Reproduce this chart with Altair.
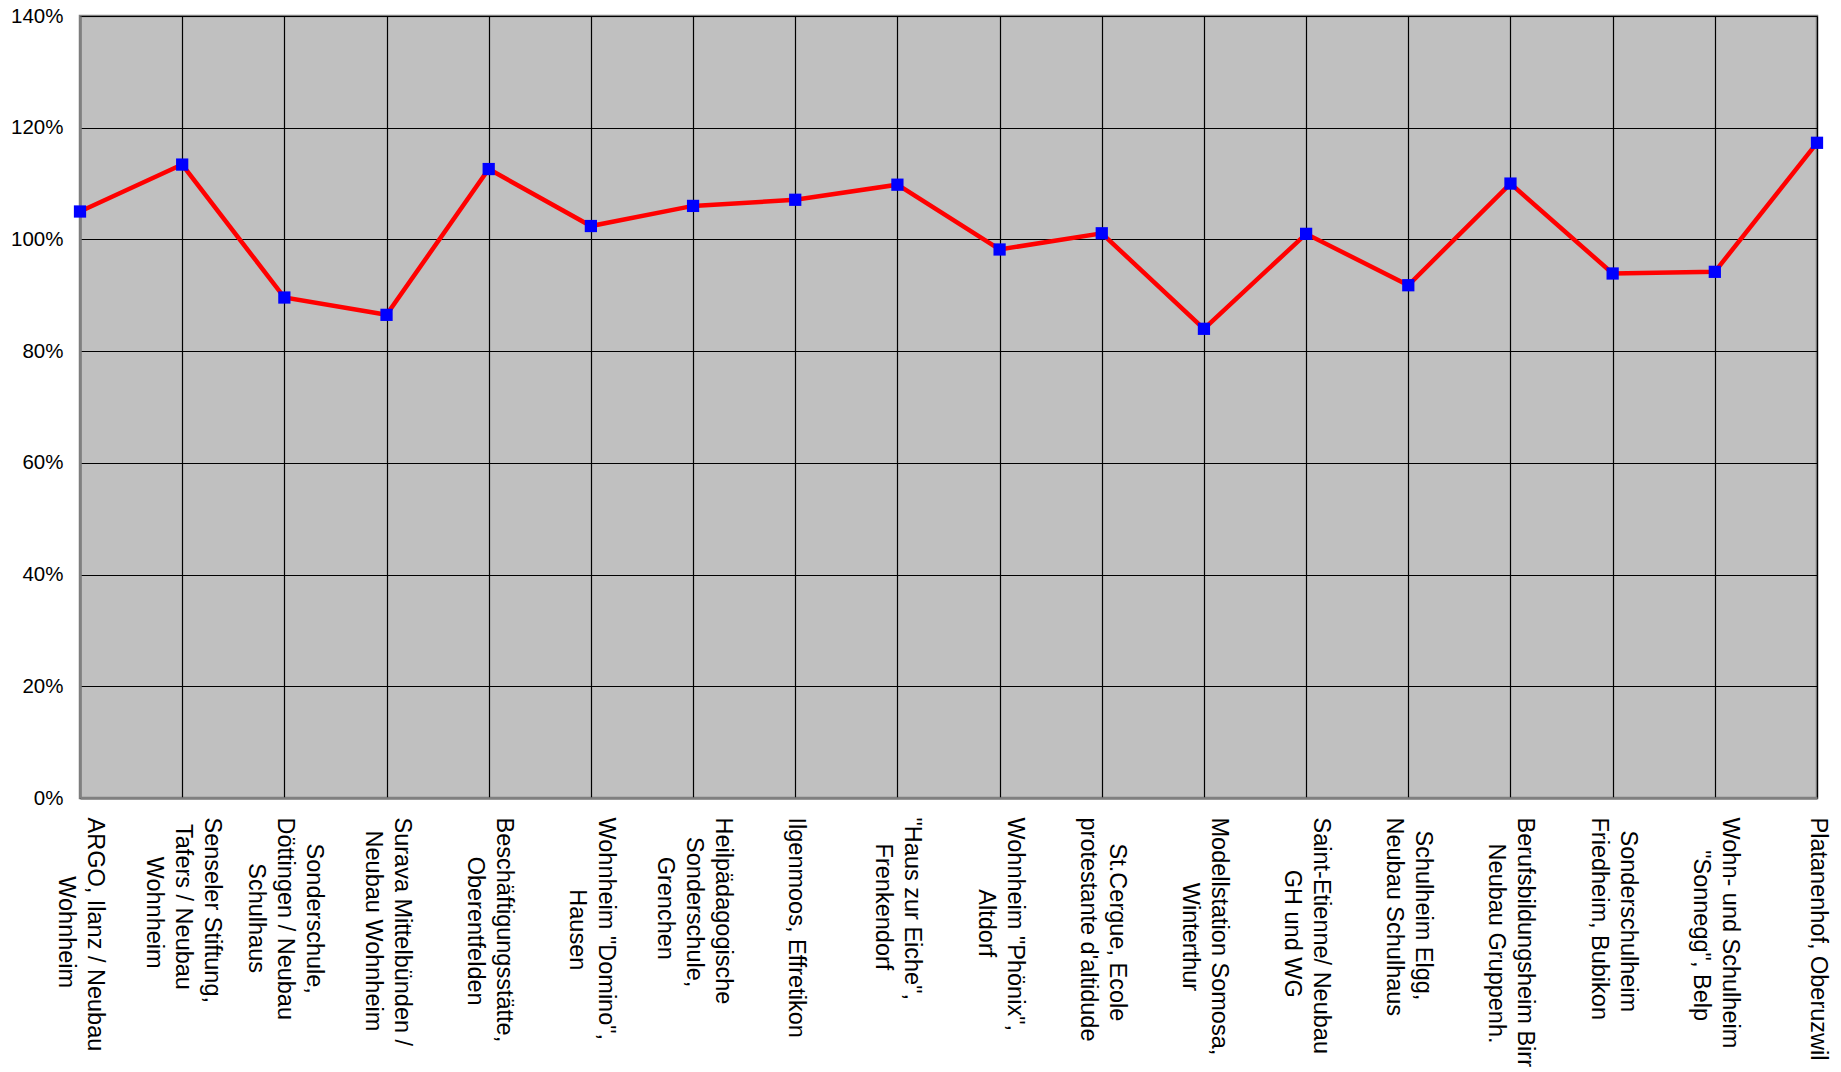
import altair as alt
import pandas as pd

label_lines = [
    ["ARGO, Ilanz / Neubau", "Wohnheim"],
    ["Senseler Stiftung,", "Tafers / Neubau", "Wohnheim"],
    ["Sonderschule,", "Döttingen / Neubau", "Schulhaus"],
    ["Surava Mittelbünden /", "Neubau Wohnheim"],
    ["Beschäftigungsstätte,", "Oberentfelden"],
    ["Wohnheim \"Domino\",", "Hausen"],
    ["Heilpädagogische", "Sonderschule,", "Grenchen"],
    ["Ilgenmoos, Effretikon"],
    ["\"Haus zur Eiche\",", "Frenkendorf"],
    ["Wohnheim \"Phönix\",", "Altdorf"],
    ["St.Cergue, Ecole", "protestante d'altidude"],
    ["Modellstation Somosa,", "Winterthur"],
    ["Saint-Etienne/ Neubau", "GH und WG"],
    ["Schulheim Elgg,", "Neubau Schulhaus"],
    ["Berufsbildungsheim Birr", "Neubau Gruppenh."],
    ["Sonderschulheim", "Friedheim, Bubikon"],
    ["Wohn- und Schulheim", "\"Sonnegg\", Belp"],
    ["Platanenhof, Oberuzwil"],
]

values = [1.050, 1.134, 0.896, 0.865, 1.126, 1.024, 1.060, 1.071, 1.098,
          0.982, 1.011, 0.840, 1.010, 0.918, 1.100, 0.939, 0.942, 1.173]

y_ticks = [0, 0.2, 0.4, 0.6, 0.8, 1.0, 1.2, 1.4]

# approximate Arial/Liberation Sans advance widths (per 1000 em) for centring lines
W = {' ': 278, '"': 355, "'": 191, ',': 278, '-': 333, '.': 278, '/': 278,
     'A': 667, 'B': 667, 'C': 722, 'D': 722, 'E': 667, 'F': 611, 'G': 778,
     'H': 722, 'I': 278, 'M': 833, 'N': 722, 'O': 778, 'P': 667, 'R': 722,
     'S': 667, 'T': 611, 'W': 944,
     'a': 556, 'b': 556, 'c': 500, 'd': 556, 'e': 556, 'f': 278, 'g': 556,
     'h': 556, 'i': 222, 'k': 500, 'l': 222, 'm': 833, 'n': 556, 'o': 556,
     'p': 556, 'r': 333, 's': 500, 't': 278, 'u': 556, 'v': 500, 'w': 722,
     'x': 500, 'z': 500, 'ä': 556, 'ö': 556, 'ü': 556}

ZW = "\u200b"   # zero-width character: keeps padding / blank lines from being trimmed


def tw(s):
    return sum(W.get(c, 556) for c in s)


def centred(lines):
    # centre each line within the block, and interleave blank half-lines so
    # that the whole block is centred on its tick
    m = max(tw(l) for l in lines)
    padded = []
    for l in lines:
        n = int(round((m - tw(l)) / 2 / 278))
        padded.append((ZW + "\u00a0" * n + l) if n else l)
    lead = 3 - len(lines)          # 1 line -> 2 blanks, 2 -> 1, 3 -> 0
    out = [ZW] * lead
    for i, l in enumerate(padded):
        if i:
            out.append(ZW)
        out.append(l)
    return "|".join(out)


cats = [centred(l) for l in label_lines]
df = pd.DataFrame({"cat": cats, "value": values})

FONT = "Liberation Sans"
LH = 29

x_enc = alt.X(
    "cat:N", sort=cats, title=None,
    scale=alt.Scale(type="point", padding=0),
    axis=alt.Axis(
        labelAngle=90, labelAlign="left", labelBaseline="middle",
        labelExpr="split(datum.label, '|')",
        labelFont=FONT, labelFontSize=23.5, labelLineHeight=LH / 2,
        labelOffset=LH, labelColor="black", labelPadding=19, labelLimit=600,
        labelOverlap=False, labelBound=False, labelFlush=False,
        ticks=False, domainColor="#808080", domainWidth=2.5,
        grid=True, gridColor="#000000", gridWidth=1.2,
    ),
)

y_enc = alt.Y(
    "value:Q", title=None,
    scale=alt.Scale(domain=[0, 1.4], nice=False, zero=True),
    axis=alt.Axis(
        values=y_ticks, format=".0%", labelFont=FONT, labelFontSize=20.5,
        labelColor="black", labelPadding=17, ticks=False,
        domainColor="#808080", domainWidth=2.5,
        grid=True, gridColor="#000000", gridWidth=1.2,
    ),
)

chart = (
    alt.Chart(df)
    .mark_line(
        color="#FF0000", strokeWidth=4.5,
        point=alt.OverlayMarkDef(shape="square", filled=True, color="#0000FF",
                                 size=150, opacity=1),
    )
    .encode(x=x_enc, y=y_enc)
    .properties(
        width=1737, height=782,
        autosize=alt.AutoSizeParams(type="none"),
        padding={"left": 80, "top": 16, "right": 24, "bottom": 274},
        background="white",
    )
    .configure_view(fill="#C0C0C0", stroke="#808080", strokeWidth=2.5)
)

chart.save("out.html", embed_options={"renderer": "svg", "actions": False})
